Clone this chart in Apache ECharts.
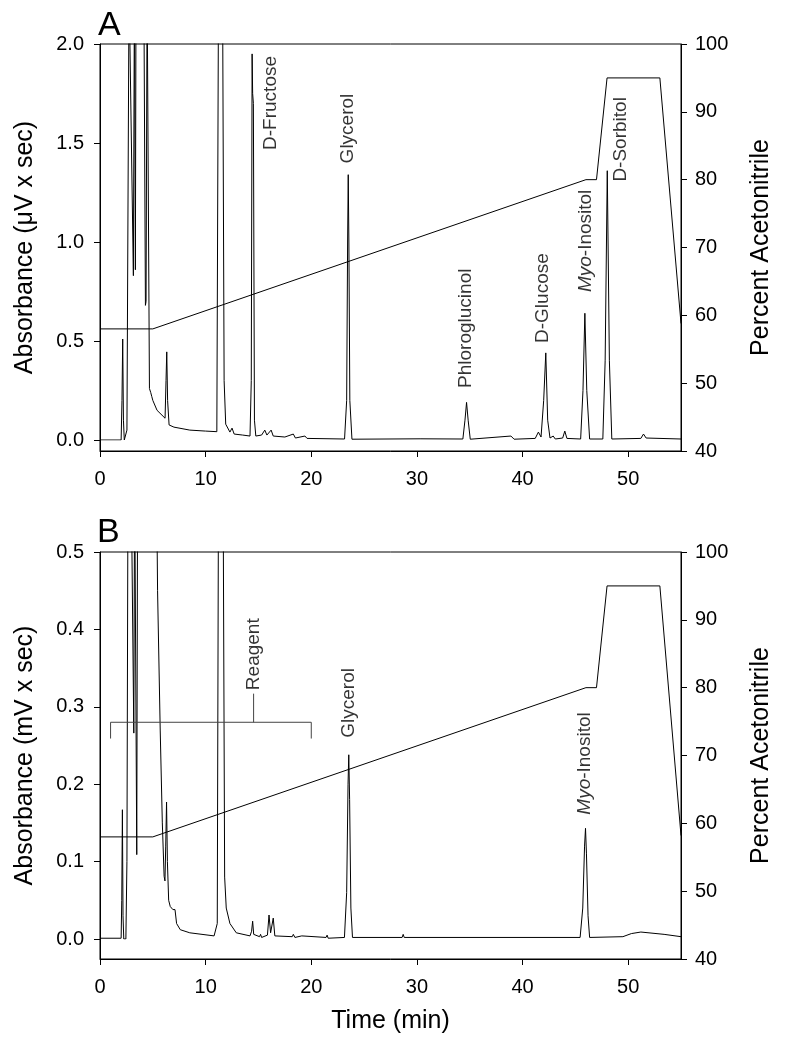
<!DOCTYPE html>
<html>
<head>
<meta charset="utf-8">
<title>Chromatograms A and B</title>
<script src="https://cdn.jsdelivr.net/npm/echarts@6/dist/echarts.min.js"></script>
<style>
  html, body { margin: 0; padding: 0; background: #fff; }
  #chart { width: 793px; height: 1050px; }
</style>
</head>
<body>
<div id="chart"></div>
<script>
// detector trace, panel A: [time (min), absorbance (uV x sec)]
var traceA = [
  [0, 0], [2.0, 0], [2.08, 0.2], [2.15, 0.51], [2.22, 0.1], [2.3, 0], [2.45, 0], [2.55, 0.05],
  [2.75, 2.3], [2.84, 2.3], [3.16, 0.83], [3.26, 2.3], [3.3, 2.3], [3.35, 0.86], [3.41, 2.3],
  [4.15, 2.3], [4.3, 0.68], [4.36, 0.7], [4.46, 2.3], [4.55, 2.3], [4.68, 0.26], [4.8, 0.24],
  [4.9, 0.22], [5.0, 0.2], [5.4, 0.15], [6.16, 0.11], [6.25, 0.3], [6.32, 0.445], [6.4, 0.2],
  [6.54, 0.076], [7.0, 0.065], [8.5, 0.05], [10, 0.045], [11.06, 0.042], [11.22, 2.3], [11.6, 2.3],
  [11.75, 0.3], [11.9, 0.08], [12.3, 0.04], [12.5, 0.06], [12.7, 0.03], [13.5, 0.025], [14.2, 0.02],
  [14.32, 0.3], [14.4, 1.95], [14.45, 1.75], [14.52, 1.7], [14.62, 0.1], [14.75, 0.02],
  [15.3, 0.025], [15.6, 0.05], [15.8, 0.025], [16.2, 0.05], [16.4, 0.02], [17.5, 0.015],
  [18.3, 0.03], [18.5, 0.01], [19.4, 0.02], [19.6, 0.008], [23.15, 0.005], [23.35, 0.2],
  [23.44, 1.0], [23.5, 1.34], [23.56, 1.0], [23.65, 0.2], [23.85, 0.004], [30.3, 0.006],
  [34.35, 0.005], [34.55, 0.1], [34.7, 0.19], [34.85, 0.1], [35.05, 0.004], [38.9, 0.02],
  [39.2, 0.004], [41.2, 0.008], [41.5, 0.04], [41.75, 0.015], [42.0, 0.2], [42.2, 0.44],
  [42.38, 0.1], [42.6, 0.01], [42.9, 0.02], [43.1, 0.005], [43.8, 0.01], [44.0, 0.045],
  [44.2, 0.008], [45.5, 0.005], [45.72, 0.25], [45.9, 0.64], [46.08, 0.25], [46.35, 0.005],
  [47.6, 0.005], [47.82, 0.4], [48.02, 1.36], [48.22, 0.4], [48.45, 0.005], [51.2, 0.008],
  [51.45, 0.03], [51.7, 0.01], [55, 0.005]
];

// detector trace, panel B: [time (min), absorbance (mV x sec)]
var traceB = [
  [0, 0.001], [2.0, 0.001], [2.06, 0.05], [2.12, 0.167], [2.18, 0.03], [2.25, 0], [2.45, 0],
  [2.55, 0.1], [2.65, 0.6], [2.95, 0.6], [3.2, 0.266], [3.28, 0.6], [3.4, 0.6], [3.48, 0.109],
  [3.56, 0.6], [5.35, 0.6], [5.45, 0.45], [5.7, 0.27], [5.9, 0.15], [6.07, 0.081], [6.15, 0.075],
  [6.22, 0.12], [6.3, 0.177], [6.38, 0.1], [6.5, 0.05], [6.65, 0.042], [6.9, 0.038], [7.1, 0.038],
  [7.25, 0.02], [7.6, 0.012], [8.5, 0.008], [10.8, 0.004], [11.1, 0.02], [11.22, 0.6], [11.65, 0.6],
  [11.8, 0.08], [11.95, 0.04], [12.3, 0.02], [12.9, 0.008], [14.2, 0.004], [14.35, 0.01],
  [14.45, 0.023], [14.55, 0.006], [15.1, 0.003], [15.2, 0.006], [15.3, 0.002], [15.85, 0.005],
  [16.0, 0.031], [16.15, 0.008], [16.25, 0.01], [16.4, 0.027], [16.55, 0.004], [18.2, 0.003],
  [18.3, 0.006], [18.45, 0.002], [19.1, 0.004], [21.4, 0.002], [21.5, 0.005], [21.6, 0.001],
  [23.14, 0.002], [23.35, 0.06], [23.48, 0.2], [23.55, 0.238], [23.63, 0.18], [23.75, 0.04],
  [23.9, 0.002], [28.6, 0.002], [28.7, 0.006], [28.8, 0.002], [45.45, 0.002], [45.7, 0.04],
  [45.87, 0.12], [45.96, 0.143], [46.05, 0.11], [46.2, 0.03], [46.35, 0.002], [49.5, 0.003],
  [50.3, 0.007], [51.2, 0.009], [53.4, 0.006], [55, 0.003]
];

// gradient program (percent acetonitrile)
var gradTime = [0, 5, 46, 47, 48, 53, 55];
var gradA = [58, 58, 80, 80, 95, 95, 58.8];
var gradB = [58, 58, 80, 80, 95, 95, 58.2];

// tick labels on the time axis
var timeTicks = [0, 10, 20, 30, 40, 50];

// peak names: [time, absorbance at the foot of the label, text]
var peaksA = [
  [16.12, 1.465, 'D-Fructose'],
  [23.49, 1.397, 'Glycerol'],
  [34.6, 0.263, 'Phloroglucinol'],
  [41.88, 0.49, 'D-Glucose'],
  [45.99, 0.747, '{i|Myo}-Inositol'],
  [49.3, 1.305, 'D-Sorbitol']
];
var peaksB = [
  [14.54, 0.3215, 'Reagent'],
  [23.55, 0.26, 'Glycerol'],
  [45.9, 0.1606, '{i|Myo}-Inositol']
];

// bracket over the reagent peaks in B
var reagentBracket = [[1, 0.259], [1, 0.28], [20, 0.28], [20, 0.259]];
var reagentStem = [[14.54, 0.28], [14.54, 0.317]];

var font = 'Liberation Sans, Arial, sans-serif';
var black = { color: '#000', width: 1 };

function pairs(xs, ys) {
  return xs.map(function (x, i) { return [x, ys[i]]; });
}

// each panel = a trace grid (baseline sits above the time axis) + a frame grid
// carrying the time axis, the acetonitrile axis and the box
function traceX(idx) {
  return { type: 'value', gridIndex: idx, min: 0, max: 55, show: false };
}

function frameX(idx, withName) {
  return {
    type: 'value', gridIndex: idx, min: 0, max: 55,
    name: withName ? 'Time (min)' : '',
    nameLocation: 'middle', nameGap: 50,
    nameTextStyle: { color: '#000', fontSize: 25, fontFamily: font },
    axisLine: { show: true, onZero: false, lineStyle: black },
    axisTick: { show: true, inside: false, length: 6, customValues: timeTicks, lineStyle: black },
    axisLabel: { customValues: timeTicks, color: '#000', fontSize: 20, fontFamily: font, margin: 18 },
    splitLine: { show: false }
  };
}

function absAxis(idx, max, interval) {
  return {
    type: 'value', gridIndex: idx, position: 'left', min: 0, max: max, interval: interval,
    axisLine: { show: false, onZero: false },
    axisTick: { show: true, inside: false, length: 6, lineStyle: black },
    axisLabel: {
      color: '#000', fontSize: 20, fontFamily: font, margin: 16,
      formatter: function (v) { return v.toFixed(1); }
    },
    splitLine: { show: false }
  };
}

// left frame line with the axis title, no ticks
function frameLeft(idx, name) {
  return {
    type: 'value', gridIndex: idx, position: 'left', min: 0, max: 1,
    name: name, nameLocation: 'middle', nameGap: 62,
    nameTextStyle: { color: '#000', fontSize: 25, fontFamily: font },
    axisLine: { show: true, onZero: false, lineStyle: black },
    axisTick: { show: false }, axisLabel: { show: false }, splitLine: { show: false }
  };
}

function pctAxis(idx) {
  return {
    type: 'value', gridIndex: idx, position: 'right', min: 40, max: 100, interval: 10,
    name: 'Percent Acetonitrile', nameLocation: 'middle', nameGap: 68,
    nameTextStyle: { color: '#000', fontSize: 25, fontFamily: font },
    axisLine: { show: true, onZero: false, lineStyle: black },
    axisTick: { show: true, inside: false, length: 6, lineStyle: black },
    axisLabel: { color: '#000', fontSize: 20, fontFamily: font, margin: 14 },
    splitLine: { show: false }
  };
}

function lineSeries(xi, yi, data, color) {
  return {
    type: 'line', xAxisIndex: xi, yAxisIndex: yi, data: data,
    showSymbol: false, symbol: 'none', silent: true, clip: true,
    lineStyle: { color: color || '#000', width: 1 }
  };
}

function labelSeries(xi, yi, list) {
  return {
    type: 'scatter', xAxisIndex: xi, yAxisIndex: yi, symbolSize: 1,
    itemStyle: { color: 'rgba(0,0,0,0)' }, silent: true,
    data: list.map(function (p) { return { value: [p[0], p[1]], name: p[2] }; }),
    label: {
      show: true, position: 'inside', rotate: 90, align: 'left', verticalAlign: 'middle',
      color: '#000', fontSize: 19, fontFamily: font,
      formatter: function (p) { return p.name; },
      rich: { i: { fontStyle: 'italic', fontSize: 19, fontFamily: font, color: '#000' } }
    }
  };
}

var chart = echarts.init(document.getElementById('chart'));
chart.setOption({
  animation: false,
  backgroundColor: '#fff',
  grid: [
    { left: 100, top: 44, width: 581, height: 396 },
    { left: 100, top: 44, width: 581, height: 407, show: true, borderColor: '#000', borderWidth: 1 },
    { left: 100, top: 552, width: 581, height: 387 },
    { left: 100, top: 552, width: 581, height: 407, show: true, borderColor: '#000', borderWidth: 1 }
  ],
  xAxis: [traceX(0), frameX(1, false), traceX(2), frameX(3, true)],
  yAxis: [
    absAxis(0, 2.0, 0.5),
    frameLeft(1, 'Absorbance (\u03bcV x sec)'),
    pctAxis(1),
    absAxis(2, 0.5, 0.1),
    frameLeft(3, 'Absorbance (mV x sec)'),
    pctAxis(3)
  ],
  graphic: [
    { type: 'text', left: 98, top: 9, style: { text: 'A', fontSize: 34, fontFamily: font, fill: '#000' } },
    { type: 'text', left: 97, top: 516, style: { text: 'B', fontSize: 34, fontFamily: font, fill: '#000' } }
  ],
  series: [
    lineSeries(0, 0, traceA),
    lineSeries(1, 2, pairs(gradTime, gradA)),
    labelSeries(0, 0, peaksA),
    lineSeries(2, 3, traceB),
    lineSeries(3, 5, pairs(gradTime, gradB)),
    lineSeries(2, 3, reagentBracket, '#444'),
    lineSeries(2, 3, reagentStem, '#444'),
    labelSeries(2, 3, peaksB)
  ]
});
</script>
</body>
</html>
